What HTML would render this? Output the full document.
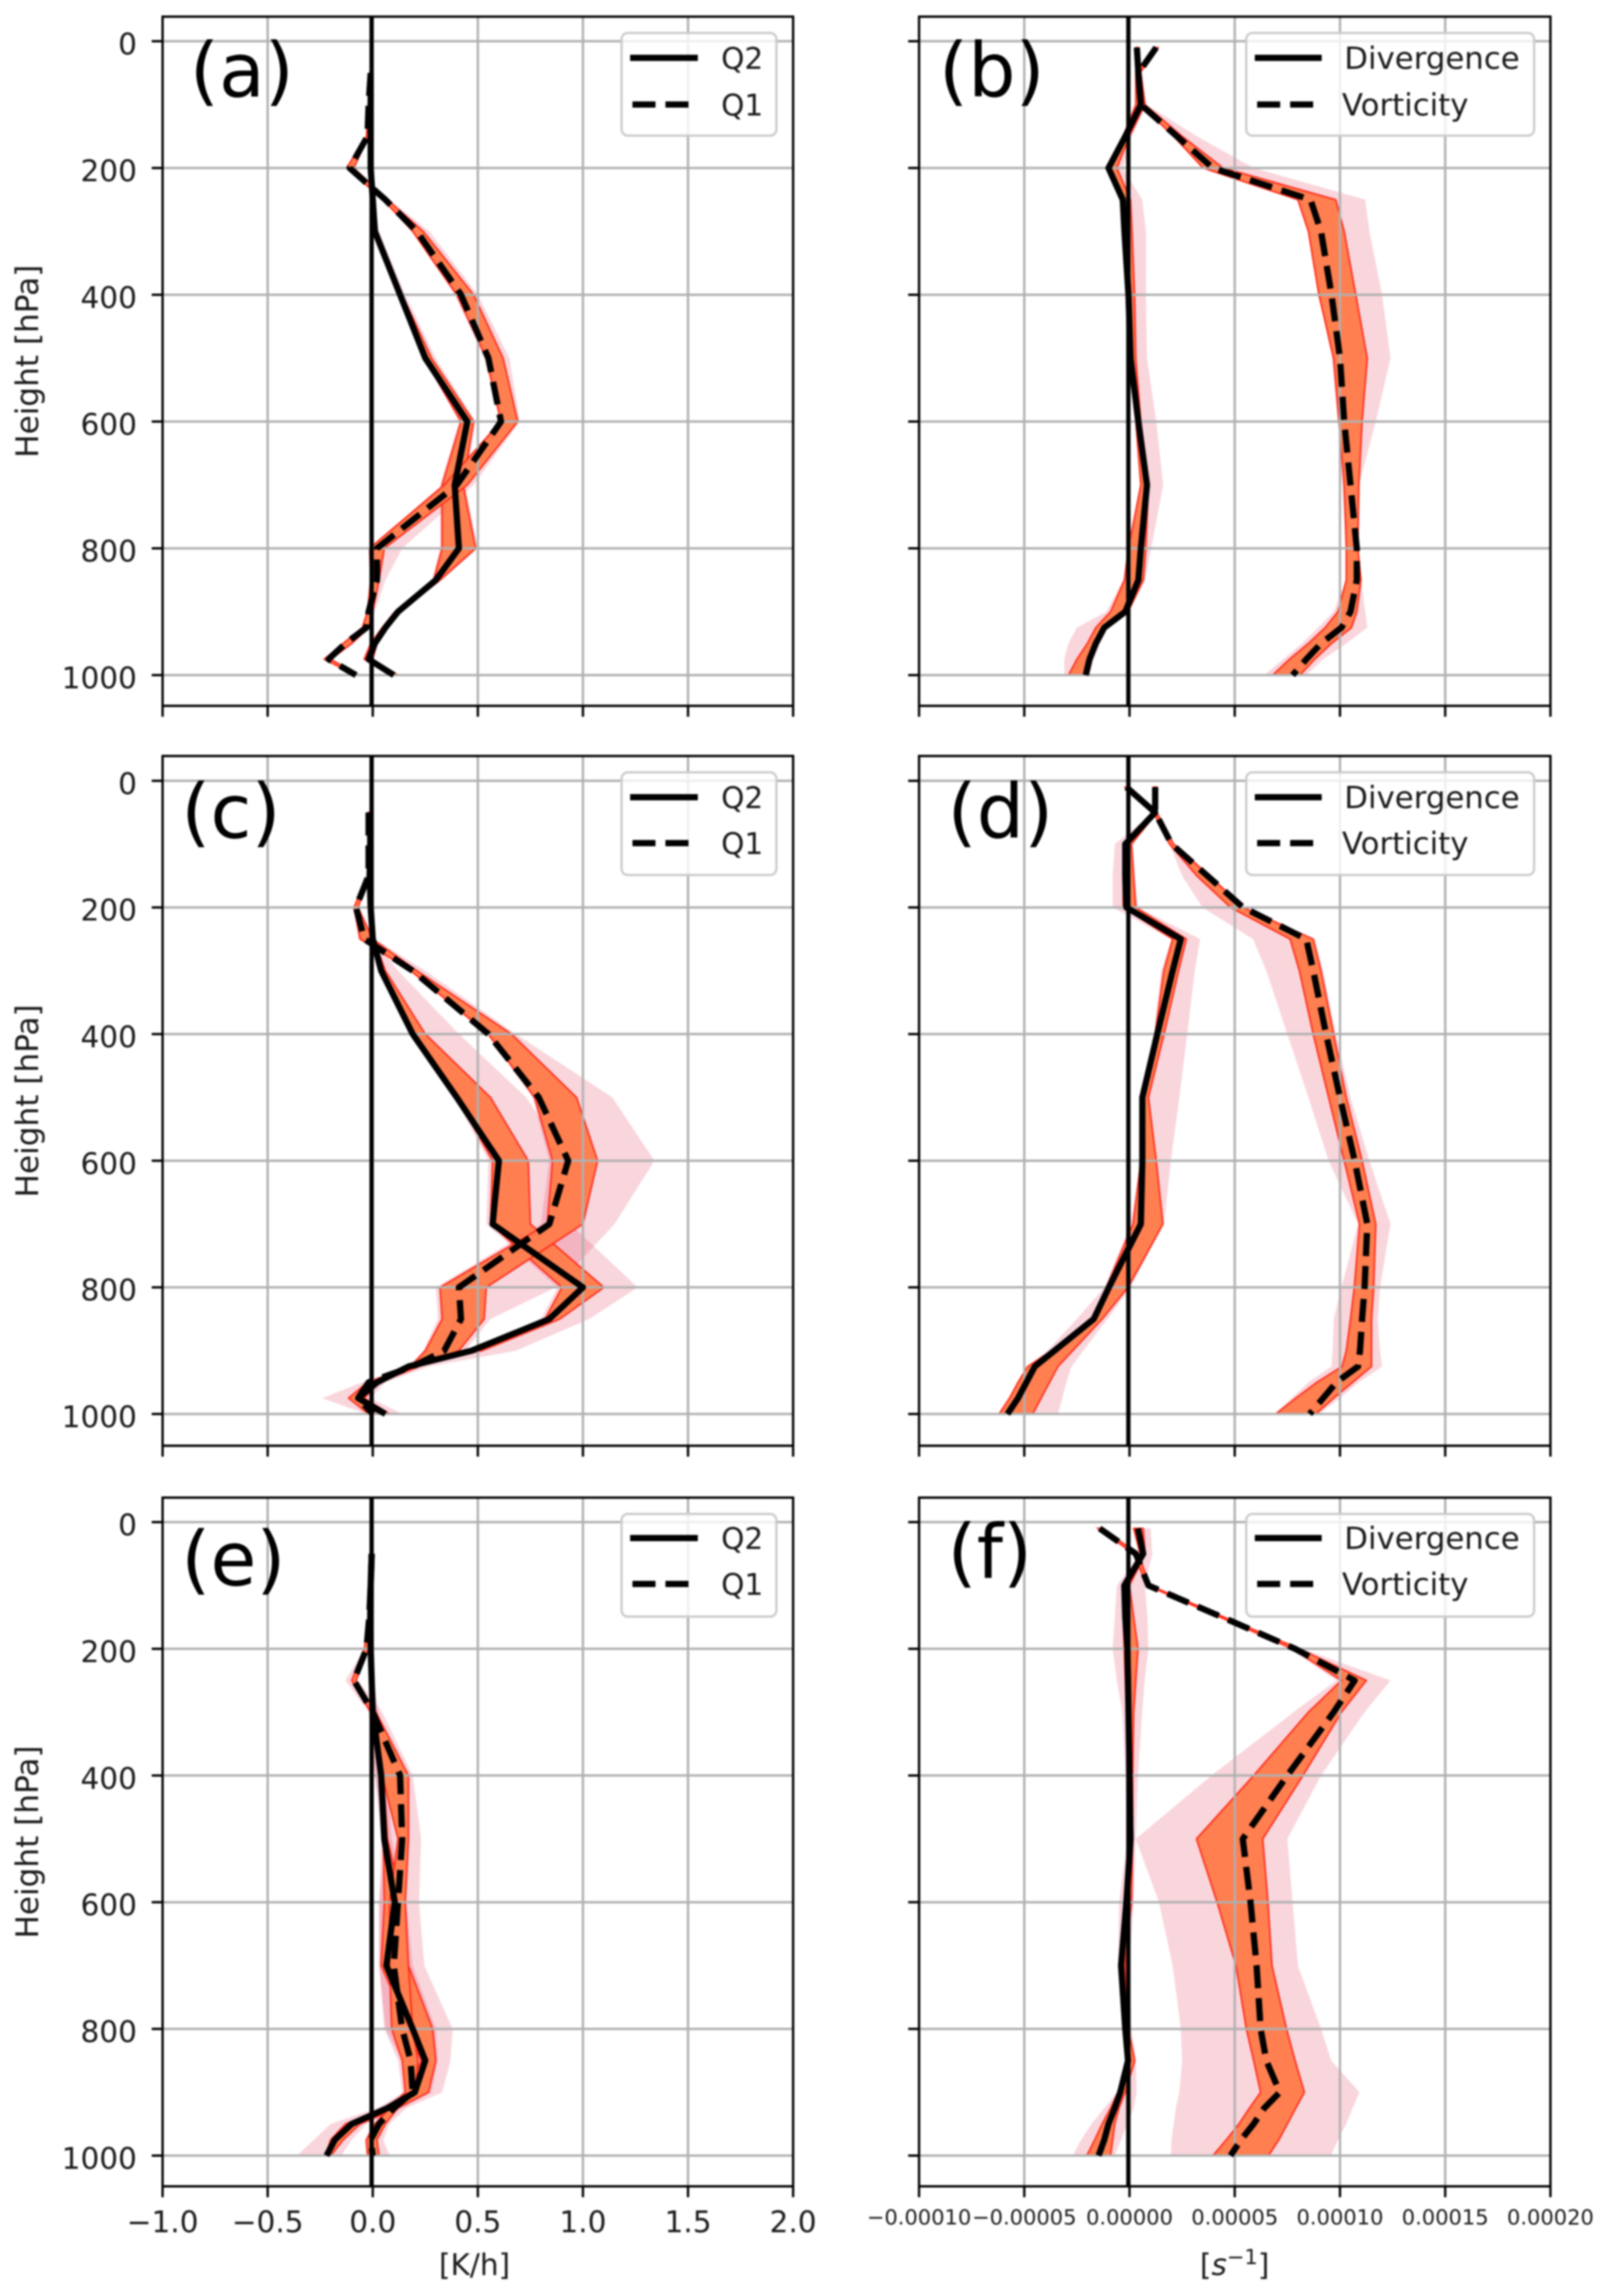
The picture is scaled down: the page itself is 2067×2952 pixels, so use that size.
<!DOCTYPE html>
<html lang="en">
<head>
<meta charset="utf-8">
<title>Vertical profiles of heating and dynamics</title>
<style>
html,body{margin:0;padding:0;background:#fff;}
#chart{display:block;width:2067px;height:2952px;filter:blur(1.1px);font-family:"DejaVu Sans","Liberation Sans",sans-serif;}
</style>
</head>
<body>
<svg id="chart" xmlns="http://www.w3.org/2000/svg" width="2067" height="2952" viewBox="0 0 2067 2952"></svg>
<script>
// ---- shared categories and tick labels ----
const levelsHeat = [50,100,150,200,250,300,400,500,600,700,800,850,900,925,950,975,1000];
const levelsDyn = [10,50,100,150,200,250,300,400,500,600,700,800,850,900,925,950,975,1000];
const yTicks = [0,200,400,600,800,1000];
const xTicksHeat = [-1,-0.5,0,0.5,1,1.5,2];
const xTickLabelsHeat = ["\u22121.0","\u22120.5","0.0","0.5","1.0","1.5","2.0"];
// dynamics panels are stored in units of 1e-5 per second
const xTicksDyn = [-10,-5,0,5,10,15,20];
const xTickLabelsDyn = ["\u22120.00010","\u22120.00005","0.00000","0.00005","0.00010","0.00015","0.00020"];

// ---- panel (a) ----
const aQ2Mean = [-.01,-.01,-.01,-.01,0,.01,.13,.25,.45,.39,.41,.30,.12,.06,.01,-.02,.10];
const aQ2Low = [-.012,-.012,-.015,-.015,-.005,0,.12,.245,.42,.33,.33,.29,.105,.045,-.01,-.04,.09];
const aQ2Up = [-.008,-.008,-.005,-.005,.005,.02,.14,.28,.48,.43,.49,.32,.13,.07,.02,0,.12];
const aQ2WideLow = [-.012,-.012,-.015,-.015,-.005,-.01,.115,.24,.41,.32,.32,.28,.10,.04,-.015,-.05,.085];
const aQ2WideUp = [-.008,-.008,-.005,-.005,.005,.03,.155,.30,.49,.44,.50,.33,.14,.08,.025,.005,.13];
const aQ1Mean = [-.01,-.02,-.025,-.11,.06,.21,.42,.55,.61,.40,.02,.02,-.02,-.03,-.13,-.21,-.08];
const aQ1Low = [-.012,-.022,-.03,-.125,.05,.19,.40,.54,.61,.34,-.015,-.01,-.025,-.05,-.14,-.23,-.085];
const aQ1Up = [-.008,-.018,-.02,-.09,.07,.24,.48,.62,.69,.45,.055,.03,0,-.02,-.10,-.20,-.07];
const aQ1WideLow = [-.012,-.022,-.03,-.13,.045,.185,.39,.53,.605,.33,-.015,-.015,-.03,-.055,-.15,-.24,-.09];
const aQ1WideUp = [-.008,-.018,-.02,-.085,.08,.27,.50,.65,.70,.48,.14,.06,.01,-.01,-.09,-.19,-.05];

// ---- panel (b) ----
const bDivMean = [.35,.42,.54,-.2,-1.0,-.32,-.24,-.05,.05,.42,.83,.54,.42,-.2,-1.2,-1.6,-1.9,-2.08];
const bDivLow = [.3,.3,.3,-.3,-1.1,-.4,-.3,-.12,-.05,.3,.54,-.05,-.24,-.9,-1.6,-2.0,-2.5,-2.9];
const bDivUp = [.42,.54,.73,0,-.6,.05,.12,.24,.3,.54,.9,.78,.66,-.07,-1.15,-1.5,-1.8,-2.0];
const bDivWideLow = [.3,.3,.3,-.3,-1.1,-.4,-.3,-.12,-.05,.3,.5,-.1,-.3,-1.1,-2.5,-2.9,-3.1,-3.1];
const bDivWideUp = [.42,.6,.8,.1,-.3,.6,.78,.78,.83,1.27,1.6,1.03,.73,0,-1.05,-1.4,-1.7,-1.9];
const bVortMean = [1.27,.42,.54,2.25,3.96,8.6,9.1,9.6,10.0,10.2,10.5,10.8,10.8,10.5,10.07,9.1,8.4,7.75];
const bVortLow = [1.2,.35,.5,2.1,3.5,8.0,8.5,9.0,9.7,9.95,10.2,10.3,10.3,9.9,9.3,8.5,7.6,6.8];
const bVortUp = [1.35,.5,.73,2.5,4.45,9.8,10.2,10.75,11.3,11.05,10.9,10.85,11.0,10.8,10.55,9.6,8.8,8.1];
const bVortWideLow = [1.2,.35,.5,2.1,3.5,8.0,8.5,9.0,9.6,9.9,10.1,10.3,10.3,9.7,8.97,8.2,7.3,6.4];
const bVortWideUp = [1.35,.55,.8,3.2,5.9,11.2,11.4,12.0,12.4,11.7,10.9,10.9,11.0,11.2,11.3,10.3,9.2,8.4];

// ---- panel (c) ----
const cQ2Mean = [-.012,-.012,-.015,-.01,0,.04,.19,.40,.60,.57,1.0,.84,.47,.17,.02,-.07,.06];
const cQ2Low = [-.015,-.015,-.02,-.015,-.005,.035,.19,.40,.57,.56,.90,.82,.45,.155,.01,-.08,.045];
const cQ2Up = [-.01,-.01,-.01,-.005,.005,.06,.25,.56,.74,.75,1.10,.89,.52,.19,.03,-.04,.08];
const cQ2WideLow = [-.015,-.015,-.02,-.015,-.005,.03,.18,.39,.55,.54,.88,.80,.44,.15,0,-.09,.04];
const cQ2WideUp = [-.01,-.01,-.01,-.005,.005,.12,.41,.73,.93,.94,1.26,1.03,.68,.27,.06,-.01,.14];
const cQ1Mean = [-.02,-.02,-.02,-.08,-.04,.19,.55,.79,.93,.84,.41,.42,.34,.19,-.02,-.07,0];
const cQ1Low = [-.022,-.022,-.025,-.09,-.06,.18,.55,.77,.855,.83,.32,.33,.25,.18,-.025,-.115,-.02];
const cQ1Up = [-.018,-.018,-.015,-.07,0,.21,.66,.97,1.07,1.0,.54,.53,.41,.22,.03,-.06,.03];
const cQ1WideLow = [-.022,-.022,-.025,-.09,-.07,.175,.54,.76,.84,.80,.30,.31,.24,.17,-.05,-.24,-.03];
const cQ1WideUp = [-.018,-.018,-.015,-.07,.01,.25,.68,1.14,1.34,1.15,.87,.56,.44,.23,.05,-.04,.05];

// ---- panel (d) ----
const dDivMean = [-.15,1.22,-.2,-.2,-.15,2.44,2.05,1.32,.61,.61,.54,-.98,-1.7,-3.57,-4.5,-4.9,-5.3,-5.8];
const dDivLow = [-.2,1.15,-.3,-.3,-.3,2.05,1.63,1.22,.54,.54,.17,-1.1,-1.8,-3.7,-4.84,-5.3,-5.7,-6.2];
const dDivUp = [-.1,1.3,.1,.2,.3,2.7,2.33,1.64,.9,1.27,1.59,-.07,-1.3,-2.7,-3.4,-3.8,-4.2,-4.6];
const dDivWideLow = [-.2,1.15,-.7,-.8,-.8,2.0,1.5,1.15,.54,.54,.05,-1.2,-2.5,-3.9,-4.84,-5.3,-5.7,-6.2];
const dDivWideUp = [-.1,1.3,.15,.25,.4,3.35,3.1,2.74,2.37,1.96,1.64,.05,-1.05,-2.2,-2.76,-3.0,-3.2,-3.4];
const dVortMean = [1.22,1.22,2.0,3.7,5.4,8.4,8.73,9.34,10.0,10.7,11.3,11.17,11.05,10.95,10.86,9.83,9.2,8.56];
const dVortLow = [1.15,1.15,1.9,3.2,4.8,7.63,8.07,8.73,9.46,10.2,10.93,10.68,10.5,10.3,10.1,8.9,7.9,6.94];
const dVortUp = [1.3,1.3,2.1,3.8,5.4,8.73,9.1,9.7,10.3,11.05,11.7,11.6,11.5,11.5,11.5,10.6,9.7,8.85];
const dVortWideLow = [1.15,1.15,1.9,2.5,3.47,5.87,6.5,7.5,8.5,9.46,10.86,10.07,9.7,9.65,9.6,8.5,7.7,6.9];
const dVortWideUp = [1.3,1.3,2.1,3.85,5.5,8.8,9.2,9.8,10.5,11.4,12.4,11.9,11.8,11.9,12.0,10.9,10,9.0];

// ---- panel (e) ----
const eQ2Mean = [-.005,-.01,-.012,-.01,-.005,0,.04,.055,.105,.065,.19,.25,.20,.07,-.10,-.18,-.22];
const eQ2Low = [-.008,-.012,-.015,-.012,-.008,-.005,.03,.05,.055,.04,.17,.23,.17,.05,-.13,-.20,-.225];
const eQ2Up = [-.002,-.005,-.008,-.005,0,.01,.05,.07,.14,.17,.285,.30,.265,.12,-.06,-.14,-.20];
const eQ2WideLow = [-.008,-.012,-.015,-.012,-.008,-.01,.01,.04,.03,.03,.06,.14,.15,.02,-.20,-.28,-.36];
const eQ2WideUp = [-.002,-.005,-.008,-.005,.002,.03,.07,.09,.16,.19,.30,.31,.28,.14,-.03,-.1,-.15];
const eQ1Mean = [-.005,-.01,-.017,-.03,-.09,0,.13,.14,.12,.10,.14,.18,.19,.10,.03,-.01,0];
const eQ1Low = [-.008,-.012,-.02,-.04,-.10,-.01,.045,.12,.08,.08,.09,.14,.155,.08,.01,-.03,-.025];
const eQ1Up = [-.002,-.006,-.012,-.02,-.08,.015,.17,.17,.155,.17,.19,.215,.20,.12,.06,.02,.03];
const eQ1WideLow = [-.008,-.012,-.02,-.04,-.13,-.02,.01,.06,.03,.03,.055,.12,.14,.06,0,-.04,-.03];
const eQ1WideUp = [-.002,-.006,-.012,-.02,-.07,.045,.19,.23,.22,.245,.38,.37,.33,.16,.08,.05,.08];

// ---- panel (f) ----
const fDivMean = [.4,.65,-.25,-.2,-.1,-.07,-.05,0,.05,-.15,-.4,-.2,-.07,-.44,-.7,-1.0,-1.2,-1.47];
const fDivLow = [.2,.5,-.3,-.3,-.25,-.2,-.15,-.1,-.05,-.2,-.45,-.25,-.1,-.55,-.9,-1.3,-1.65,-2.03];
const fDivUp = [.65,.75,0,.2,.4,.3,.2,.15,.15,.1,-.2,-.05,.25,-.2,-.5,-.7,-.8,-.9];
const fDivWideLow = [.2,.5,-.6,-.7,-.8,-.6,-.35,-.2,-.1,-.5,-.55,-.3,-.15,-.6,-1.2,-1.8,-2.3,-2.7];
const fDivWideUp = [1.0,1.08,.73,.85,.9,.72,.6,.4,.3,.2,0,.1,.3,.34,.2,-.1,-.4,-.7];
const fVortMean = [-1.42,.3,.9,4.4,7.87,10.7,9.7,7.5,5.38,5.75,6.04,6.23,6.5,7.14,6.4,5.9,5.3,4.8];
const fVortLow = [-1.5,.2,.83,4.3,7.75,10.07,8.5,5.9,3.18,4.16,5.06,5.55,5.9,6.23,5.7,5.2,4.6,3.96];
const fVortUp = [-1.3,.4,.98,4.5,8.07,11.25,10.07,8.24,6.33,6.58,6.77,7.46,7.87,8.31,7.9,7.5,7.1,6.6];
const fVortWideLow = [-1.5,.2,.8,4.2,7.6,9.83,7.8,3.9,.3,1.4,2.05,2.44,2.5,2.37,2.2,2.1,2.0,1.96];
const fVortWideUp = [-1.3,.4,1.0,4.6,8.2,12.4,11.17,9.1,7.5,7.75,8.0,9.1,9.58,10.93,10.6,10.3,9.9,9.58];

// ---- layout (frames only, no data) ----
const NS = "http://www.w3.org/2000/svg";
const root = document.getElementById("chart");
const columns = {
  heat: {left: 209, right: 1019.5, xMin: -1, xMax: 2, ticks: xTicksHeat, labels: xTickLabelsHeat, tickFont: 38, labelDy: 14, legFont: 38, levels: levelsHeat, names: ["Q2","Q1"], legX: 799, legW: 199, lineX1: 810, lineX2: 897, textX: [927,927]},
  dyn: {left: 1181.4, right: 1993, xMin: -10, xMax: 20, ticks: xTicksDyn, labels: xTickLabelsDyn, tickFont: 27, labelDy: 4, legFont: 39.6, levels: levelsDyn, names: ["Divergence","Vorticity"], legX: 1602, legW: 370, lineX1: 1613, lineX2: 1699, textX: [1728,1725]}
};
const rows = [
  {top: 21.4, bottom: 907.5, y0: 53, y1: 868, rowShift: [1,1]},
  {top: 972, bottom: 1858.8, y0: 1003.9, y1: 1818, rowShift: [1,0]},
  {top: 1925.5, bottom: 2811, y0: 1957, y1: 2771.5, rowShift: [0,-1]}
];

const panels = [
  {id:"a", col:"heat", row:0, letterX:244, letterY:124, s1:[aQ2Mean,aQ2Low,aQ2Up,aQ2WideLow,aQ2WideUp], s2:[aQ1Mean,aQ1Low,aQ1Up,aQ1WideLow,aQ1WideUp]},
  {id:"b", col:"dyn", row:0, letterX:1207, letterY:124, s1:[bDivMean,bDivLow,bDivUp,bDivWideLow,bDivWideUp], s2:[bVortMean,bVortLow,bVortUp,bVortWideLow,bVortWideUp]},
  {id:"c", col:"heat", row:1, letterX:233, letterY:1077, s1:[cQ2Mean,cQ2Low,cQ2Up,cQ2WideLow,cQ2WideUp], s2:[cQ1Mean,cQ1Low,cQ1Up,cQ1WideLow,cQ1WideUp]},
  {id:"d", col:"dyn", row:1, letterX:1218, letterY:1077, s1:[dDivMean,dDivLow,dDivUp,dDivWideLow,dDivWideUp], s2:[dVortMean,dVortLow,dVortUp,dVortWideLow,dVortWideUp]},
  {id:"e", col:"heat", row:2, letterX:233, letterY:2038, s1:[eQ2Mean,eQ2Low,eQ2Up,eQ2WideLow,eQ2WideUp], s2:[eQ1Mean,eQ1Low,eQ1Up,eQ1WideLow,eQ1WideUp]},
  {id:"f", col:"dyn", row:2, letterX:1218, letterY:2029, s1:[fDivMean,fDivLow,fDivUp,fDivWideLow,fDivWideUp], s2:[fVortMean,fVortLow,fVortUp,fVortWideLow,fVortWideUp]}
];

function make(parent, tag, name, interactable, attrs, text) {
  const el = document.createElementNS(NS, tag);
  
  
  for (const k in attrs) el.setAttribute(k, attrs[k]);
  if (text !== undefined) el.textContent = text;
  parent.appendChild(el);
  return el;
}

function slug(s) { return s.toLowerCase(); }

const defs = make(root, "defs", "clip-definitions", "false", {});

panels.forEach(function (p) {
  const col = columns[p.col];
  const row = rows[p.row];
  const isBottom = p.row === 2;
  const isLeft = p.col === "heat";
  const xScale = function (v) { return col.left + (v - col.xMin) / (col.xMax - col.xMin) * (col.right - col.left); };
  const yScale = function (l) { return row.y0 + (l / 1000) * (row.y1 - row.y0); };
  const pre = "panel-" + p.id + "-";
  const g = make(root, "g", "panel-" + p.id, "false", {});

  const clip = make(defs, "clipPath", pre + "clip", "false", {id: "clip-" + p.id});
  make(clip, "rect", pre + "clip-rect", "false", {x: col.left, y: row.top, width: col.right - col.left, height: row.bottom - row.top});
  const plot = make(g, "g", pre + "plot-area", "false", {"clip-path": "url(#clip-" + p.id + ")"});

  const bandPts = function (low, up) {
    const a = low.map(function (v, i) { return xScale(v).toFixed(1) + "," + yScale(col.levels[i]).toFixed(1); });
    const b = up.map(function (v, i) { return xScale(v).toFixed(1) + "," + yScale(col.levels[i]).toFixed(1); }).reverse();
    return a.concat(b).join(" ");
  };
  const linePts = function (vals) {
    return vals.map(function (v, i) { return xScale(v).toFixed(1) + "," + yScale(col.levels[i]).toFixed(1); }).join(" ");
  };

  [p.s1, p.s2].forEach(function (s, si) {
    make(plot, "polygon", pre + slug(col.names[si]) + "-wide-band", "false", {points: bandPts(s[3], s[4]), fill: "#dc143c", "fill-opacity": 0.18, stroke: "none"});
  });
  [p.s1, p.s2].forEach(function (s, si) {
    make(plot, "polygon", pre + slug(col.names[si]) + "-narrow-band", "false", {points: bandPts(s[1], s[2]), fill: "#ff7f50", stroke: "#ff2a1a", "stroke-width": 2, "stroke-linejoin": "miter"});
  });

  col.ticks.forEach(function (t) {
    make(plot, "line", pre + "x-gridline", "false", {x1: xScale(t), x2: xScale(t), y1: row.top, y2: row.bottom, stroke: "#b0b0b0", "stroke-width": 3});
  });
  yTicks.forEach(function (t) {
    make(plot, "line", pre + "y-gridline", "false", {x1: col.left, x2: col.right, y1: yScale(t), y2: yScale(t), stroke: "#b0b0b0", "stroke-width": 3});
  });

  make(plot, "line", pre + "zero-line", "false", {x1: xScale(0) - 1.5, x2: xScale(0) - 1.5, y1: row.top, y2: row.bottom, stroke: "#000", "stroke-width": 5.5});
  make(plot, "polyline", pre + slug(col.names[0]) + "-line", "false", {points: linePts(p.s1[0]), fill: "none", stroke: "#000", "stroke-width": 8, "stroke-linejoin": "round"});
  make(plot, "polyline", pre + slug(col.names[1]) + "-line", "false", {points: linePts(p.s2[0]), fill: "none", stroke: "#000", "stroke-width": 8, "stroke-dasharray": "29.6 12.8", "stroke-linejoin": "round"});

  make(g, "rect", pre + "frame", "false", {x: col.left, y: row.top, width: col.right - col.left, height: row.bottom - row.top, fill: "none", stroke: "#000", "stroke-width": 3});

  col.ticks.forEach(function (t, i) {
    make(g, "line", pre + "x-tick", "false", {x1: xScale(t), x2: xScale(t), y1: row.bottom, y2: row.bottom + 14, stroke: "#000", "stroke-width": 3});
    if (isBottom) {
      make(g, "text", pre + "x-tick-label", "false", {x: xScale(t), y: 2851 + col.labelDy + 5, "text-anchor": "middle", "font-size": col.tickFont, fill: "#1a1a1a"}, col.labels[i]);
    }
  });
  yTicks.forEach(function (t) {
    make(g, "line", pre + "y-tick", "false", {x1: col.left - 14, x2: col.left, y1: yScale(t), y2: yScale(t), stroke: "#000", "stroke-width": 3});
    if (isLeft) {
      make(g, "text", pre + "y-tick-label", "false", {x: 176, y: yScale(t) + 17, "text-anchor": "end", "font-size": 38, fill: "#1a1a1a"}, String(t));
    }
  });

  if (isLeft) {
    const cy = (row.top + row.bottom) / 2;
    make(g, "text", pre + "y-axis-title", "false", {x: 36, y: cy, transform: "rotate(-90 36 " + cy + ")", "text-anchor": "middle", "dominant-baseline": "central", "font-size": 40, fill: "#1a1a1a"}, "Height [hPa]");
  }

  make(g, "text", pre + "letter", "false", {x: p.letterX, y: p.letterY, "font-size": 96, fill: "#000"}, "(" + p.id + ")");

  const lg = make(g, "g", pre + "legend", "true", {});
  const legTop = row.top + 21;
  make(lg, "rect", pre + "legend-box", "false", {x: col.legX, y: legTop, width: col.legW, height: 132, rx: 8, ry: 8, fill: "#fff", "fill-opacity": 0.8, stroke: "#cccccc", "stroke-width": 3});
  const rowYs = [legTop + 31 + row.rowShift[0], legTop + 91 + row.rowShift[1]];
  make(lg, "line", pre + "legend-solid-swatch", "false", {x1: col.lineX1, x2: col.lineX2, y1: rowYs[0], y2: rowYs[0], stroke: "#000", "stroke-width": 8});
  make(lg, "line", pre + "legend-dashed-swatch", "false", {x1: col.lineX1 + 3, x2: col.lineX2, y1: rowYs[1], y2: rowYs[1], stroke: "#000", "stroke-width": 8, "stroke-dasharray": "29.6 12.8"});
  make(lg, "text", pre + "legend-label-" + slug(col.names[0]), "false", {x: col.textX[0], y: rowYs[0] + 14, "font-size": col.legFont, fill: "#1a1a1a"}, col.names[0]);
  make(lg, "text", pre + "legend-label-" + slug(col.names[1]), "false", {x: col.textX[1], y: rowYs[1] + 14, "font-size": col.legFont, fill: "#1a1a1a"}, col.names[1]);
});

make(root, "text", "x-axis-title-heating", "false", {x: 610, y: 2925, "text-anchor": "middle", "font-size": 38, fill: "#1a1a1a"}, "[K/h]");

const dynTitle = make(root, "text", "x-axis-title-dynamics", "false", {x: 1587, y: 2925, "text-anchor": "middle", "font-size": 38, fill: "#1a1a1a"});
const t1 = document.createElementNS(NS, "tspan");


t1.textContent = "[";
dynTitle.appendChild(t1);
const t2 = document.createElementNS(NS, "tspan");


t2.setAttribute("font-style", "italic");
t2.textContent = "s";
dynTitle.appendChild(t2);
const t3 = document.createElementNS(NS, "tspan");


t3.setAttribute("font-size", "27");
t3.setAttribute("dy", "-14");
t3.textContent = "\u22121";
dynTitle.appendChild(t3);
const t4 = document.createElementNS(NS, "tspan");


t4.setAttribute("dy", "14");
t4.textContent = "]";
dynTitle.appendChild(t4);
</script>
</body>
</html>
